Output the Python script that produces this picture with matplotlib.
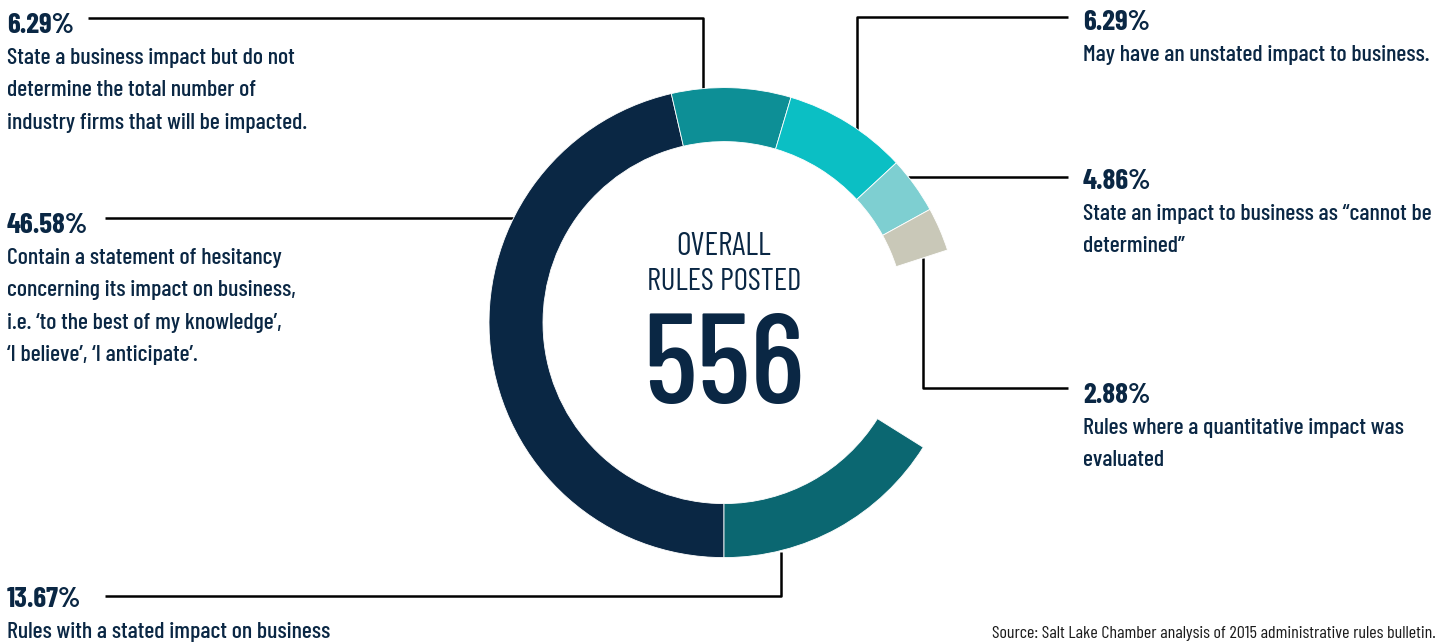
import matplotlib
matplotlib.use("Agg")
import matplotlib.pyplot as plt
from matplotlib import font_manager

W, H = 1440, 642

# ring segments as drawn, clockwise from the bottom of the ring
segment_names = ["hesitancy", "no firm count", "unstated", "cannot be determined",
                 "quantitative", "gap", "stated impact"]
arc_share = [46.4, 8.2, 8.5, 3.9, 3.0, 13.9, 16.1]
seg_colors = ["#0a2744", "#0d8f96", "#0bbfc4", "#7ecfd1", "#c9c8b8", "none", "#0b6771"]

# labels
left_pcts = ["6.29%", "46.58%", "13.67%"]
left_texts = [
    ["State a business impact but do not", "determine the total number of",
     "industry firms that will be impacted."],
    ["Contain a statement of hesitancy", "concerning its impact on business,",
     "i.e. \u2018to the best of my knowledge\u2019,", "\u2018I believe\u2019, \u2018I anticipate\u2019."],
    ["Rules with a stated impact on business"],
]
right_pcts = ["6.29%", "4.86%", "2.88%"]
right_texts = [
    ["May have an unstated impact to business."],
    ["State an impact to business as \u201ccannot be", "determined\u201d"],
    ["Rules where a quantitative impact was", "evaluated"],
]
total_rules = 556
source = "Source: Salt Lake Chamber analysis of 2015 administrative rules bulletin."

names = {f.name for f in font_manager.fontManager.ttflist}
FAM = ["Barlow Condensed", "DejaVu Sans"] if "Barlow Condensed" in names else ["DejaVu Sans"]
NAVY = "#0a2744"

fig = plt.figure(figsize=(W / 100, H / 100), dpi=100)
ax = fig.add_axes([0, 0, 1, 1])


def Y(y):
    # picture rows -> data y
    return H - y


cx, cy, r_out, ring = 724, 322.6, 235, 54
wedges, _ = ax.pie(arc_share, colors=seg_colors, startangle=270, counterclock=False,
                   radius=r_out, center=(cx, Y(cy)),
                   wedgeprops=dict(width=ring, edgecolor="white", linewidth=0.6))
wedges[segment_names.index("gap")].set_edgecolor("none")
ax.set_xlim(0, W)
ax.set_ylim(0, H)
ax.axis("off")

# leader lines (picture coordinates)
leaders = [
    [(88, 18), (703, 18), (703, 92)],
    [(105, 218), (514, 218)],
    [(105, 596), (781, 596), (781, 552)],
    [(1068, 17), (857, 17), (857, 130)],
    [(1068, 177), (908, 177)],
    [(1068, 388), (923, 388), (923, 258)],
]
for pts in leaders:
    xs = [p[0] for p in pts]
    ys = [Y(p[1]) for p in pts]
    ax.plot(xs, ys, color="black", lw=1.8, solid_capstyle="butt", zorder=0)

PCT_SIZE = 21
BODY_SIZE = 17.2
STEP = 32.3


def block(x, base_pct, pct, lines):
    ax.text(x, Y(base_pct), pct, family=FAM, fontsize=PCT_SIZE, fontweight=700,
            color=NAVY, ha="left", va="baseline")
    for i, ln in enumerate(lines):
        ax.text(x, Y(base_pct + 31 + i * STEP), ln, family=FAM, fontsize=BODY_SIZE,
                fontweight=500, color=NAVY, ha="left", va="baseline")


for pct, lines, yb in zip(left_pcts, left_texts, [33, 233, 607]):
    block(7, yb, pct, lines)
for pct, lines, yb in zip(right_pcts, right_texts, [30, 189, 403]):
    block(1083, yb, pct, lines)

ax.text(cx, Y(255), "OVERALL", family=FAM, fontsize=23, color=NAVY,
        ha="center", va="baseline")
ax.text(cx, Y(290), "RULES POSTED", family=FAM, fontsize=22.3, color=NAVY,
        ha="center", va="baseline")
ax.text(cx, Y(403), str(total_rules), family=FAM, fontsize=92, fontweight=500,
        color=NAVY, ha="center", va="baseline")

ax.text(1436, Y(638), source, family=FAM, fontsize=13, color="#1a1a1a",
        ha="right", va="baseline")

fig.savefig("out.png", dpi=100)
